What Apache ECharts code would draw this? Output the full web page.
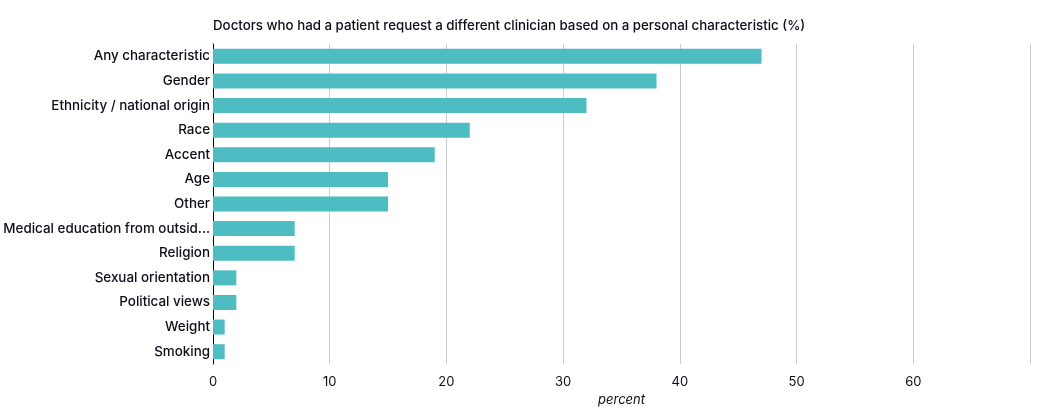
<!DOCTYPE html>
<html><head><meta charset="utf-8">
<script src="https://cdn.jsdelivr.net/npm/echarts@6/dist/echarts.min.js"></script>
<style>html,body{margin:0;padding:0;background:#fff}#c{width:1050px;height:414px}</style>
</head><body><div id="c"></div>
<script>
const categories = ["Any characteristic","Gender","Ethnicity / national origin","Race","Accent","Age","Other","Medical education from outside the U.S.","Religion","Sexual orientation","Political views","Weight","Smoking"];
const values = [47,38,32,22,19,15,15,7,7,2,2,1,1];
const titleText = "Doctors who had a patient request a different clinician based on a personal characteristic (%)";
const axisName = "percent";

const font = "Inter, 'Noto Sans', sans-serif";
const chart = echarts.init(document.getElementById('c'), null, {renderer:'canvas'});
chart.setOption({
  animation:false,
  title:{text:titleText,left:208,top:14,textStyle:{fontFamily:font,fontSize:13.3,fontWeight:500,color:'#0d0d1a'}},
  grid:{left:213,right:20,top:44,bottom:50,containLabel:false},
  xAxis:{type:'value',min:0,max:70,interval:10,
    name:axisName,nameLocation:'middle',nameGap:30,
    nameTextStyle:{fontFamily:font,fontSize:13,fontStyle:'italic',color:'#0d0d1a'},
    axisLine:{show:false},axisTick:{show:false},
    axisLabel:{fontFamily:font,fontSize:13,color:'#0d0d1a',margin:12,showMaxLabel:false},
    splitLine:{lineStyle:{color:'#cccccc',width:1}}},
  yAxis:{type:'category',data:categories,inverse:true,
    axisLine:{show:true,lineStyle:{color:'#000',width:1}},axisTick:{show:false},
    axisLabel:{fontFamily:font,fontSize:13.4,fontWeight:500,color:'#0d0d1a',margin:3,width:212,overflow:'truncate'}},
  series:[{type:'bar',data:values,barWidth:15,itemStyle:{color:'#4dbdc2'}}]
});
</script></body></html>
